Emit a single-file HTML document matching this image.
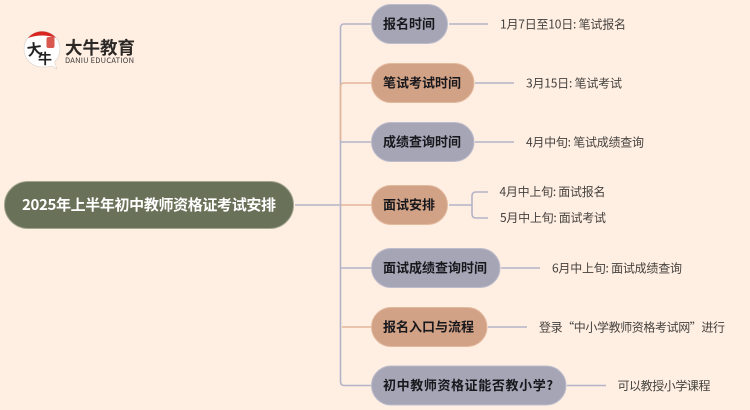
<!DOCTYPE html>
<html><head><meta charset="utf-8"><style>
html,body{margin:0;padding:0;background:#ffefe3;width:750px;height:410px;overflow:hidden}
svg{display:block}
text{font-family:"Noto Sans CJK SC","Liberation Sans",sans-serif}
.n{font-size:13px;font-weight:700;fill:#17171c}
.l{font-size:12px;fill:#46423e}
</style></head><body>
<svg width="750" height="410" viewBox="0 0 750 410" xmlns="http://www.w3.org/2000/svg">
<rect width="750" height="410" fill="#ffefe3"/>
<g fill="none" stroke="#b4b3c7" stroke-width="1.600">
<path d="M371 24H344Q340.500 24 340.500 28V381Q340.500 385.500 344 385.500H371"/>
<path d="M295 205H340"/>
<path d="M341 142H371"/>
<path d="M341 268H344M344 268H371"/>
<path d="M449 24H488M475 83H514M475 142H514M449 205H472M501 268H540M488 327H527M567 385.500H606"/>
<path d="M488 192H476Q472 192 472 196V214Q472 218 476 218H488"/>
</g>
<g fill="none" stroke="#e4b799" stroke-width="1.600">
<path d="M371 83H344Q340.500 83 340.500 87V140"/>
<path d="M341 205H371M342 327H371"/>
</g>
<rect x="4.500" y="181.500" width="289" height="47" rx="23.500" fill="#6a7159" stroke="#a3a68f" stroke-width="1"/>
<text x="22" y="210" font-size="15" font-weight="700" fill="#fff" textLength="254">2025年上半年初中教师资格证考试安排</text>
<g stroke-width="1">
<rect x="371.500" y="4.500" width="76" height="39" rx="19.500" fill="#a5a5b6" stroke="#bdbccb"/>
<rect x="371.500" y="63.500" width="102.500" height="39" rx="19.500" fill="#d2a286" stroke="#e2b99f"/>
<rect x="371.500" y="122.500" width="102.500" height="39" rx="19.500" fill="#a5a5b6" stroke="#bdbccb"/>
<rect x="371.500" y="185.500" width="76" height="39" rx="19.500" fill="#d2a286" stroke="#e2b99f"/>
<rect x="371.500" y="248.500" width="128.500" height="39" rx="19.500" fill="#a5a5b6" stroke="#bdbccb"/>
<rect x="371.500" y="307.500" width="115.500" height="39" rx="19.500" fill="#d2a286" stroke="#e2b99f"/>
<rect x="371.500" y="366" width="194.500" height="39" rx="19.500" fill="#a5a5b6" stroke="#bdbccb"/>
</g>
<text class="n" x="383" y="28.500" textLength="52">报名时间</text>
<text class="n" x="383" y="87.500" textLength="78">笔试考试时间</text>
<text class="n" x="383" y="146.500" textLength="78">成绩查询时间</text>
<text class="n" x="383" y="209.500" textLength="52">面试安排</text>
<text class="n" x="383" y="272.500" textLength="104">面试成绩查询时间</text>
<text class="n" x="383" y="331.500" textLength="91">报名入口与流程</text>
<text class="n" x="383" y="390" textLength="170">初中教师资格证能否教小学?</text>
<text class="l" x="500" y="28.500" textLength="126">1月7日至10日: 笔试报名</text>
<text class="l" x="526" y="87.500" textLength="96">3月15日: 笔试考试</text>
<text class="l" x="526" y="146.500" textLength="118">4月中旬: 笔试成绩查询</text>
<text class="l" x="499.500" y="196" textLength="106">4月中上旬: 面试报名</text>
<text class="l" x="500" y="222" textLength="106">5月中上旬: 面试考试</text>
<text class="l" x="552" y="272.500" textLength="130">6月中上旬: 面试成绩查询</text>
<text class="l" x="539" y="331.500" textLength="186">登录“中小学教师资格考试网”进行</text>
<text class="l" x="617.500" y="390" textLength="93">可以教授小学课程</text>
<path d="M42 31a18 18 0 0 0-18 18a18 18 0 0 0 18 18q7 0 10-1l5 3-2.500-7a18 18 0 0 0 5.500-13a18 18 0 0 0-18-18z" fill="#fff" stroke="#d8d2cc" stroke-width="0.600"/>
<path d="M28 38a18 18 0 0 1 28 0q-14-5-28 0z" fill="#d8251f"/>
<rect x="46.500" y="37" width="8" height="11" rx="2" fill="#d9574f"/>
<text x="27" y="55" font-size="15" font-weight="700" fill="#222" transform="rotate(-8 33 50)">大</text>
<text x="38" y="64" font-size="14" font-weight="700" fill="#222">牛</text>
<text x="65" y="54" font-size="17.500" font-weight="700" fill="#2c2825" textLength="70">大牛教育</text>
<text x="65" y="63" font-size="7.500" fill="#3c3835" textLength="69">DANIU EDUCATION</text>
</svg>
</body></html>
